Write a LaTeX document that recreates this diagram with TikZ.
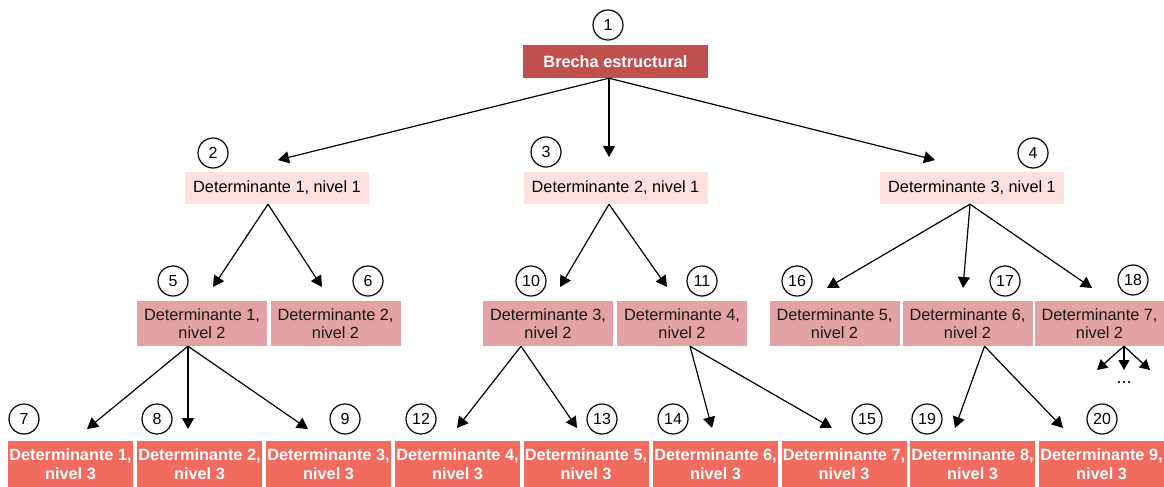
\documentclass[tikz,border=0pt]{standalone}
\usepackage{fontspec}
\setmainfont{Liberation Sans}
\usetikzlibrary{arrows.meta}
\definecolor{topc}{HTML}{C0504D}
\definecolor{lone}{HTML}{FDE1E1}
\definecolor{ltwo}{HTML}{E3A2A3}
\definecolor{lthree}{HTML}{F26B5F}
\tikzset{
  basebox/.style={inner sep=0pt, align=center, font=\fontsize{16.3}{18.5}\selectfont},
  topbox/.style={basebox, fill=topc, text=white, font=\fontsize{16.3}{18.5}\selectfont\bfseries, minimum width=185pt, minimum height=33pt},
  onebox/.style={basebox, fill=lone, text=black, minimum width=184pt, minimum height=32pt},
  twobox/.style={basebox, fill=ltwo, text=black!90, minimum width=130pt, minimum height=45pt},
  threebox/.style={basebox, fill=lthree, text=white, font=\fontsize{16.3}{18.5}\selectfont\bfseries, minimum width=125pt, minimum height=46pt},
  num/.style={circle, draw=black, line width=1.2pt, minimum size=30pt, inner sep=0pt, font=\fontsize{16}{18}\selectfont},
  arr/.style={line width=1.2pt, -{Triangle[length=11pt,width=12pt]}},
  sarr/.style={line width=1.2pt, -{Triangle[length=10pt,width=11pt]}}
}
\begin{document}
\begin{tikzpicture}[x=1pt,y=-1pt]
\useasboundingbox (0,0) rectangle (1164,487);
% top
\node[topbox] (b1) at (615.5,61.5) {Brecha estructural};
\node[num] (c1) at (608,25) {1};
% level 1
\node[onebox] (b2) at (277,188) {Determinante 1, nivel 1};
\node[onebox] (b3) at (615.5,188) {Determinante 2, nivel 1};
\node[onebox] (b4) at (972,188) {Determinante 3, nivel 1};
\node[num] (c2) at (213,153) {2};
\node[num] (c3) at (546,152) {3};
\node[num] (c4) at (1033,153) {4};
% level 2
\node[twobox] (b5) at (202,323.5) {Determinante 1,\\nivel 2};
\node[twobox] (b6) at (335.5,323.5) {Determinante 2,\\nivel 2};
\node[twobox] (b10) at (548,323.5) {Determinante 3,\\nivel 2};
\node[twobox] (b11) at (682,323.5) {Determinante 4,\\nivel 2};
\node[twobox] (b16) at (834.5,323.5) {Determinante 5,\\nivel 2};
\node[twobox] (b17) at (967.5,323.5) {Determinante 6,\\nivel 2};
\node[twobox, minimum width=129pt] (b18) at (1099.5,323.5) {Determinante 7,\\nivel 2};
\node[num] (c5) at (173,281) {5};
\node[num] (c6) at (368,281) {6};
\node[num] (c10) at (531,281) {10};
\node[num] (c11) at (702,281) {11};
\node[num] (c16) at (797,281) {16};
\node[num] (c17) at (1005,281) {17};
\node[num] (c18) at (1133,280) {18};
% level 3
\node[threebox] (b7) at (70.5,464) {Determinante 1,\\nivel 3};
\node[threebox] (b8) at (199.5,464) {Determinante 2,\\nivel 3};
\node[threebox] (b9) at (328.5,464) {Determinante 3,\\nivel 3};
\node[threebox] (b12) at (457.5,464) {Determinante 4,\\nivel 3};
\node[threebox] (b13) at (586,464) {Determinante 5,\\nivel 3};
\node[threebox] (b14) at (715.5,464) {Determinante 6,\\nivel 3};
\node[threebox] (b15) at (844,464) {Determinante 7,\\nivel 3};
\node[threebox] (b19) at (972.5,464) {Determinante 8,\\nivel 3};
\node[threebox] (b20) at (1101.5,464) {Determinante 9,\\nivel 3};
\node[num] (c7) at (24,419) {7};
\node[num] (c8) at (157,419) {8};
\node[num] (c9) at (345,419) {9};
\node[num] (c12) at (421,419) {12};
\node[num] (c13) at (602,419) {13};
\node[num] (c14) at (673,419) {14};
\node[num] (c15) at (867,419) {15};
\node[num] (c19) at (927,419) {19};
\node[num] (c20) at (1102,419) {20};
\node[font=\fontsize{18}{20}\selectfont] (dots) at (1124,383) {...};
% arrow tips
\coordinate (t2) at (278,160);
\coordinate (t3) at (609,157);
\coordinate (t4) at (935,160);
\coordinate (t5) at (213,287);
\coordinate (t6) at (322,287);
\coordinate (t10) at (560,287);
\coordinate (t11) at (667,287);
\coordinate (t16) at (827,288);
\coordinate (t17) at (963,288);
\coordinate (t18) at (1092,288);
\coordinate (t7) at (87,429);
\coordinate (t8) at (188,429);
\coordinate (t9) at (308,429);
\coordinate (t12) at (457,428);
\coordinate (t13) at (577,428);
\coordinate (t14) at (712,428);
\coordinate (t15) at (832,428);
\coordinate (t19) at (955,428);
\coordinate (t20) at (1063,428);
\coordinate (e1) at (1097,370);
\coordinate (e2) at (1124,370);
\coordinate (e3) at (1150,370);
% connectors
\foreach \t in {t2,t3,t4} \draw[arr] ([xshift=-6.5pt]b1.south) -- (\t);
\foreach \t in {t5,t6} \draw[arr] ([xshift=-9pt]b2.south) -- (\t);
\foreach \t in {t10,t11} \draw[arr] ([xshift=-6.5pt]b3.south) -- (\t);
\foreach \t in {t16,t17,t18} \draw[arr] ([xshift=-2pt]b4.south) -- (\t);
\foreach \t in {t7,t8,t9} \draw[arr] ([xshift=-14pt]b5.south) -- (\t);
\foreach \t in {t12,t13} \draw[arr] ([xshift=-27pt]b10.south) -- (\t);
\foreach \t in {t14,t15} \draw[arr] ([xshift=8pt]b11.south) -- (\t);
\foreach \t in {t19,t20} \draw[arr] ([xshift=17pt]b17.south) -- (\t);
\foreach \t in {e1,e2,e3} \draw[sarr] ([xshift=24.5pt]b18.south) -- (\t);
\end{tikzpicture}
\end{document}
